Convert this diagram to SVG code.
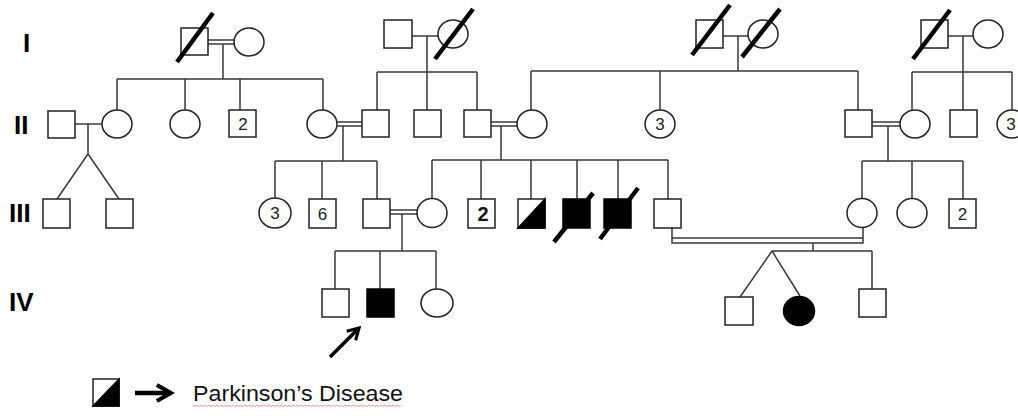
<svg xmlns="http://www.w3.org/2000/svg" width="1018" height="416" viewBox="0 0 1018 416">
<style>
.s{fill:#fff;stroke:#222;stroke-width:1.5}
.a{fill:#000;stroke:#000;stroke-width:1.5}
.c{fill:none;stroke:#3a3a3a;stroke-width:1.5}
.d{fill:none;stroke:#000;stroke-width:4.5;stroke-linecap:butt}
.g{font-family:"Liberation Sans",Arial,sans-serif;font-weight:bold;font-size:26px;fill:#000}
.n{font-family:"Liberation Sans",Arial,sans-serif;font-size:17px;fill:#222;text-anchor:middle}
.nb{font-family:"Liberation Sans",Arial,sans-serif;font-size:20px;font-weight:bold;fill:#111;text-anchor:middle}
.t{font-family:"Liberation Sans",Arial,sans-serif;font-size:22px;fill:#111}
</style>
<defs>
<marker id="ah" viewBox="0 0 10 10" refX="8" refY="5" markerWidth="4.5" markerHeight="4.5" orient="auto" markerUnits="strokeWidth">
<path d="M1,1 L8,5 L1,9" fill="none" stroke="#000" stroke-width="2"/>
</marker>
</defs>
<rect width="1018" height="416" fill="#fff"/>

<g id="labels">
<text class="g" x="23" y="52">I</text>
<text class="g" x="14" y="134">II</text>
<text class="g" x="9" y="222">III</text>
<text class="g" x="9" y="311">IV</text>
</g>

<g id="connectors">
<path class="c" d="M208,40 H234 M208,44 H234 M223,44 V79 M117,79 H323 M117,79 V110 M185,79 V110 M240,79 V110 M323,79 V110"/>
<path class="c" d="M412,36 H438 M427,36 V72 M377,72 H477 M377,72 V110 M427,72 V110 M477,72 V110"/>
<path class="c" d="M723,36 H748 M738,36 V71 M531,71 H858 M531,71 V110 M660,71 V110 M858,71 V110"/>
<path class="c" d="M948,36 H973 M963,36 V72 M912,72 H1012 M912,72 V110 M963,72 V110 M1012,72 V110"/>
<path class="c" d="M75,124 H102 M88,124 V154 L57,199 M88,154 L119,199"/>
<path class="c" d="M337,122 H362 M337,126 H362 M343,126 V161 M275,161 H377 M275,161 V198 M322,161 V199 M377,161 V199"/>
<path class="c" d="M491,122 H517 M491,126 H517 M501,126 V160 M432,160 H668 M432,160 V199 M481,160 V199 M531,160 V199 M577,160 V199 M618,160 V199 M668,160 V199"/>
<path class="c" d="M872,122 H900 M872,126 H900 M888,126 V161 M862,161 H963 M862,161 V199 M912,161 V199 M963,161 V199"/>
<path class="c" d="M390,210 H417 M390,214 H417 M402,214 V251 M335,251 H436 M335,251 V289 M380,251 V289 M436,251 V289"/>
<path class="c" d="M672,228 V243 H863 V228 M672,238 H863 M813,243 V251 M772,251 H872 M772,251 L740,297 M772,251 L800,296 M872,251 V289"/>
<path d="M330,357 L359,328" fill="none" stroke="#000" stroke-width="3.5" marker-end="url(#ah)"/>
</g>

<g id="I-1"><rect class="s" x="181" y="28" width="27" height="27"/><line class="d" x1="177" y1="62" x2="213" y2="13"/></g>
<g id="I-2"><ellipse class="s" cx="249" cy="42" rx="15" ry="14"/></g>
<g id="I-3"><rect class="s" x="384" y="20" width="28" height="28"/></g>
<g id="I-4"><ellipse class="s" cx="453" cy="34" rx="15" ry="14"/><line class="d" x1="435" y1="59" x2="473" y2="9"/></g>
<g id="I-5"><rect class="s" x="696" y="20" width="27" height="28"/><line class="d" x1="692" y1="55" x2="730" y2="5"/></g>
<g id="I-6"><ellipse class="s" cx="763" cy="34" rx="15" ry="14"/><line class="d" x1="742" y1="57" x2="780" y2="9"/></g>
<g id="I-7"><rect class="s" x="921" y="20" width="27" height="28"/><line class="d" x1="913" y1="59" x2="950" y2="10"/></g>
<g id="I-8"><ellipse class="s" cx="988" cy="34" rx="15" ry="14"/></g>

<g id="II-1"><rect class="s" x="48" y="111" width="27" height="27"/></g>
<g id="II-2"><ellipse class="s" cx="117" cy="124" rx="15" ry="14"/></g>
<g id="II-3"><ellipse class="s" cx="185" cy="124" rx="15" ry="14"/></g>
<g id="II-4"><rect class="s" x="229" y="110" width="27" height="27"/><text class="n" x="243" y="130">2</text></g>
<g id="II-5"><ellipse class="s" cx="322" cy="124" rx="15" ry="14"/></g>
<g id="II-6"><rect class="s" x="362" y="110" width="27" height="27"/></g>
<g id="II-7"><rect class="s" x="414" y="110" width="27" height="27"/></g>
<g id="II-8"><rect class="s" x="464" y="110" width="27" height="27"/></g>
<g id="II-9"><ellipse class="s" cx="532" cy="124" rx="15" ry="14"/></g>
<g id="II-10"><ellipse class="s" cx="660" cy="124" rx="15" ry="14"/><text class="n" x="660" y="130">3</text></g>
<g id="II-11"><rect class="s" x="845" y="110" width="27" height="27"/></g>
<g id="II-12"><ellipse class="s" cx="915" cy="124" rx="15" ry="14"/></g>
<g id="II-13"><rect class="s" x="950" y="110" width="27" height="27"/></g>
<g id="II-14"><ellipse class="s" cx="1012" cy="124" rx="15" ry="14"/><text class="n" x="1011" y="130">3</text></g>

<g id="III-1"><rect class="s" x="43" y="199" width="27" height="29"/></g>
<g id="III-2"><rect class="s" x="106" y="199" width="27" height="29"/></g>
<g id="III-3"><ellipse class="s" cx="275" cy="213" rx="16" ry="15"/><text class="n" x="275" y="219">3</text></g>
<g id="III-4"><rect class="s" x="309" y="199" width="27" height="29"/><text class="n" x="322.5" y="220">6</text></g>
<g id="III-5"><rect class="s" x="363" y="199" width="27" height="29"/></g>
<g id="III-6"><ellipse class="s" cx="432" cy="213" rx="15" ry="14.5"/></g>
<g id="III-7"><rect class="s" x="468" y="199" width="27" height="29"/><text class="nb" x="483" y="221">2</text></g>
<g id="III-8"><rect class="s" x="518" y="199" width="27" height="29"/><path class="a" d="M518,228 L545,199 V228 Z"/></g>
<g id="III-9"><rect class="a" x="563" y="199" width="27" height="29"/><line class="d" x1="554" y1="242" x2="593" y2="193"/></g>
<g id="III-10"><rect class="a" x="604" y="199" width="27" height="29"/><line class="d" x1="600" y1="239" x2="638" y2="188"/></g>
<g id="III-11"><rect class="s" x="654" y="199" width="27" height="29"/></g>
<g id="III-12"><ellipse class="s" cx="862" cy="213" rx="15" ry="14.5"/></g>
<g id="III-13"><ellipse class="s" cx="912" cy="213" rx="15" ry="14.5"/></g>
<g id="III-14"><rect class="s" x="949" y="199" width="27" height="29"/><text class="n" x="962.5" y="220">2</text></g>

<g id="IV-1"><rect class="s" x="322" y="289" width="27" height="28"/></g>
<g id="IV-2"><rect class="a" x="367" y="289" width="27" height="28"/></g>
<g id="IV-3"><ellipse class="s" cx="437" cy="303" rx="16" ry="14"/></g>
<g id="IV-4"><rect class="s" x="725" y="297" width="28" height="28"/></g>
<g id="IV-5"><ellipse class="a" cx="799" cy="311" rx="15.5" ry="14.5"/></g>
<g id="IV-6"><rect class="s" x="859" y="289" width="27" height="28"/></g>

<g id="legend">
<rect class="s" x="93" y="379" width="26" height="27"/>
<path class="a" d="M93,406 L119,379 V406 Z"/>
<path d="M135,393 H171" fill="none" stroke="#000" stroke-width="4.5" marker-end="url(#ah)"/>
<text class="t" x="193" y="401" textLength="210" lengthAdjust="spacingAndGlyphs">Parkinson’s Disease</text>
<path d="M193,405 l2,1.5 l2,-1.5 l2,1.5 l2,-1.5 l2,1.5 l2,-1.5 l2,1.5 l2,-1.5 l2,1.5 l2,-1.5 l2,1.5 l2,-1.5 l2,1.5 l2,-1.5 l2,1.5 l2,-1.5 l2,1.5 l2,-1.5 l2,1.5 l2,-1.5 l2,1.5 l2,-1.5 l2,1.5 l2,-1.5 l2,1.5 l2,-1.5 l2,1.5 l2,-1.5 l2,1.5 l2,-1.5 l2,1.5 l2,-1.5 l2,1.5 l2,-1.5 l2,1.5 l2,-1.5 l2,1.5 l2,-1.5 l2,1.5 l2,-1.5 l2,1.5 l2,-1.5 l2,1.5 l2,-1.5 l2,1.5 l2,-1.5 l2,1.5 l2,-1.5 l2,1.5 l2,-1.5 l2,1.5 l2,-1.5 l2,1.5 l2,-1.5 l2,1.5 l2,-1.5 l2,1.5 l2,-1.5 l2,1.5 l2,-1.5 l2,1.5 l2,-1.5 l2,1.5 l2,-1.5 l2,1.5 l2,-1.5 l2,1.5 l2,-1.5 l2,1.5 l2,-1.5 l2,1.5 l2,-1.5 l2,1.5 l2,-1.5 l2,1.5 l2,-1.5 l2,1.5 l2,-1.5 l2,1.5 l2,-1.5 l2,1.5 l2,-1.5 l2,1.5 l2,-1.5 l2,1.5 l2,-1.5 l2,1.5 l2,-1.5 l2,1.5 l2,-1.5 l2,1.5 l2,-1.5 l2,1.5 l2,-1.5 l2,1.5 l2,-1.5 l2,1.5 l2,-1.5 l2,1.5 l2,-1.5 l2,1.5 l2,-1.5 l2,1.5 l2,-1.5" fill="none" stroke="#d9534f" stroke-width="0.8" opacity="0.7"/>
</g>
</svg>
